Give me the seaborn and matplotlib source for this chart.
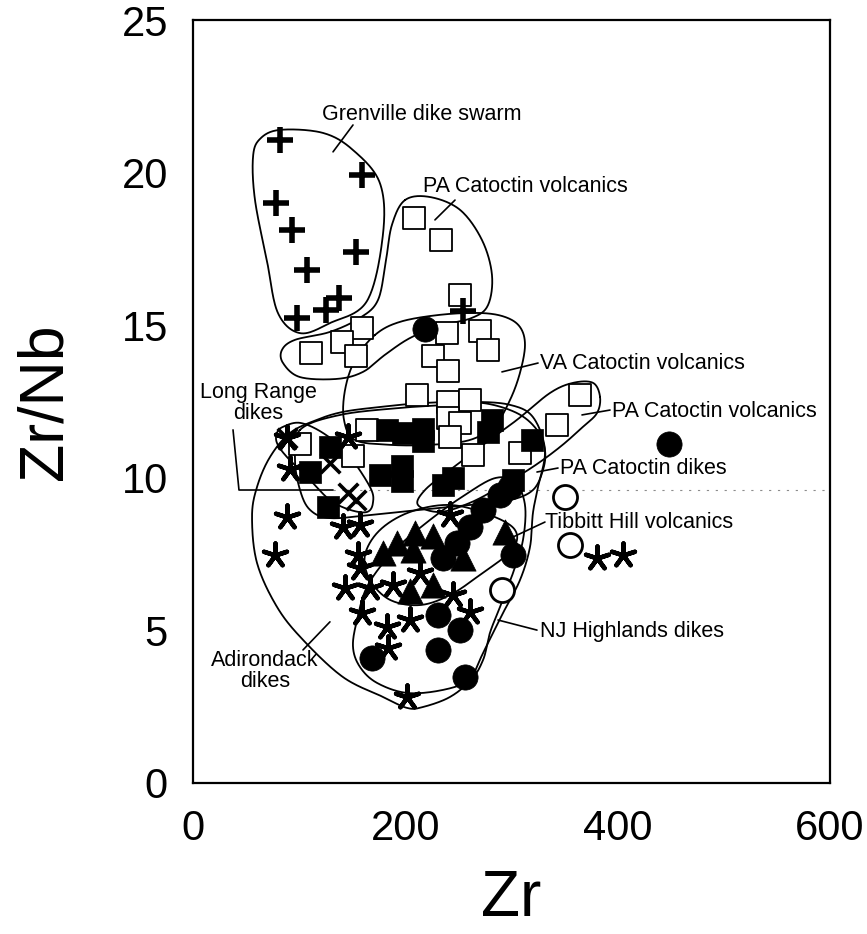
import numpy as np
import pandas as pd
import matplotlib
matplotlib.use("Agg")
import matplotlib.pyplot as plt
import seaborn as sns

# ---------------- data (Zr, Zr/Nb) ----------------
grenville_zr = [82, 159, 78, 93, 153.5, 107, 137.5, 125, 98, 254]
grenville_ratio = [21.07, 19.92, 19.0, 18.12, 17.4, 16.8, 15.89, 15.5, 15.24, 15.47]

volc_open_sq_zr = [208, 233.5, 251.5, 159, 239, 270, 111, 140, 153.5, 226, 240, 278,
                   211, 240, 261, 240, 251.5, 242, 164, 101, 151, 264, 308, 364.5, 343]
volc_open_sq_ratio = [18.5, 17.8, 16.0, 14.9, 14.75, 14.8, 14.1, 14.45, 14.0, 14.0, 13.5, 14.2,
                      12.7, 12.5, 12.55, 11.96, 11.8, 11.35, 11.57, 11.1, 10.7, 10.75, 10.8, 12.7, 11.73]

dike_sq_zr = [182.5, 198, 217, 217, 282, 278, 319, 129, 110, 176, 197, 197, 235.5, 245, 127, 301.5]
dike_sq_ratio = [11.57, 11.47, 11.6, 11.2, 11.9, 11.5, 11.24, 11.0, 10.2, 10.1, 10.4, 9.9, 9.76, 10.0, 9.04, 9.93]

longrange_zr = [88.5, 129, 146, 154]
longrange_ratio = [11.3, 10.5, 9.5, 9.27]

adirondack_zr = [88.5, 91, 146, 88.5, 77, 141, 157, 155.5, 157, 143, 167, 188, 159, 182.5,
                 204, 184, 201.5, 261, 245, 214, 242, 380.5, 405]
adirondack_ratio = [11.3, 10.3, 11.35, 8.7, 7.47, 8.4, 8.45, 7.47, 7.05, 6.4, 6.4, 6.5, 5.56, 5.1,
                    5.34, 4.42, 2.82, 5.6, 6.16, 6.88, 8.78, 7.37, 7.47]

tibbitt_zr = [179, 192, 209, 207, 226, 254, 294, 204, 226]
tibbitt_ratio = [7.54, 7.86, 8.2, 7.63, 8.1, 7.37, 8.22, 6.3, 6.5]

njh_zr = [218.5, 448, 301, 231, 251.5, 231, 168.5, 256, 235.5, 248.5, 261, 273, 289, 298.6]
njh_ratio = [14.87, 11.1, 7.47, 5.5, 5.0, 4.36, 4.1, 3.47, 7.37, 7.86, 8.39, 8.94, 9.44, 9.7]

open_circ_zr = [350, 355, 291]
open_circ_ratio = [9.37, 7.8, 6.32]

# ---------------- field outlines (Zr, Zr/Nb vertices) ----------------
outline_grenville = [(82, 21.4), (63, 21.1), (56.5, 20.5), (58.4, 19.1), (69.7, 17.1), (80, 15.4),
                     (100.8, 14.74), (129, 15.07), (164, 15.8), (179, 18.0), (176, 19.66),
                     (150.7, 20.74), (122.4, 21.3)]
outline_pa_volc_up = [(199.7, 19.10), (223.2, 19.20), (251.5, 18.78), (272.2, 17.79), (281.6, 16.65),
                      (277.9, 15.66), (262.8, 15.24), (232.6, 14.98), (204.4, 14.58), (180.8, 14.03),
                      (160.1, 13.47), (135.6, 13.24), (100.8, 13.30), (84.8, 13.76), (83.8, 14.19),
                      (96.1, 14.52), (129.0, 14.78), (157.3, 15.24), (174.3, 15.83), (181.8, 17.14),
                      (187.4, 18.29)]
outline_va_volc = [(171.4, 14.68), (195.0, 15.11), (232.6, 15.34), (270.3, 15.40), (293.9, 15.27),
                   (308.0, 14.94), (312.7, 14.35), (308.0, 13.44), (298.6, 12.55), (284.5, 11.73),
                   (260.9, 11.24), (223.2, 11.08), (185.6, 11.08), (152.6, 11.24), (142.2, 11.90),
                   (143.2, 12.88), (152.6, 13.86)]
outline_pa_volc_low = [(383.4, 12.65), (380.5, 12.12), (367.3, 11.67), (345.7, 11.01), (320.2, 10.36),
                       (289.2, 9.70), (260.9, 9.18), (232.6, 8.88), (211.9, 9.11), (218.5, 9.60),
                       (242.1, 10.26), (273.2, 11.08), (305.2, 11.90), (336.3, 12.78), (357.9, 13.11),
                       (376.8, 13.11)]
outline_pa_dikes = [(100.8, 11.57), (138.5, 12.06), (195.0, 12.29), (242.1, 12.39), (273.2, 12.45),
                    (305.2, 12.12), (324.0, 11.57), (331.5, 10.91), (329.7, 10.26), (320.2, 9.60),
                    (298.6, 9.27), (260.9, 9.11), (213.8, 8.95), (166.7, 8.78), (129.0, 8.68),
                    (110.2, 8.95), (100.8, 9.60), (96.1, 10.58)]
outline_longrange = [(79.1, 11.47), (84.8, 11.67), (100.8, 11.80), (122.4, 11.47), (145.1, 10.81),
                     (166.7, 9.70), (169.5, 9.18), (163.9, 8.88), (147.9, 8.95), (129.0, 9.27),
                     (110.2, 9.93), (88.5, 10.68), (79.1, 11.14)]
outline_adirondack = [(91.4, 11.47), (116.8, 11.90), (141.3, 12.16), (176.1, 12.32), (216.6, 12.45),
                      (263.7, 12.49), (298.6, 12.39), (320.2, 11.99), (331.5, 10.91), (325.0, 9.70),
                      (320.2, 8.85), (317.4, 7.73), (308.0, 6.65), (292.0, 5.57), (273.2, 4.26),
                      (260.9, 3.38), (242.1, 2.82), (216.6, 2.49), (201.6, 2.46), (179.0, 2.82),
                      (141.3, 3.47), (103.6, 4.69), (79.1, 5.77), (60.3, 7.21), (55.6, 8.72),
                      (60.3, 9.70), (72.5, 10.68)]
outline_njh = [(154.5, 5.34), (150.7, 4.46), (157.3, 3.80), (173.3, 3.28), (201.6, 2.95), (235.5, 3.05),
               (260.9, 3.38), (273.2, 4.03), (279.7, 4.92), (289.2, 5.77), (301.4, 6.88), (310.8, 7.96),
               (312.7, 9.11), (303.3, 9.86), (284.5, 9.99), (256.2, 9.44), (223.2, 8.62), (190.3, 7.64),
               (164.8, 6.49)]
outline_tibbitt = [(162.0, 7.47), (176.1, 8.29), (204.4, 8.88), (242.1, 9.11), (279.7, 8.78),
                   (303.3, 8.29), (300.5, 7.64), (270.3, 6.82), (242.1, 6.16), (213.8, 5.83),
                   (185.6, 6.00), (166.7, 6.65)]

# ---------------- labels: text, text anchor, leader path ----------------
label_text = ["Grenville dike swarm", "PA Catoctin volcanics", "VA Catoctin volcanics",
              "PA Catoctin volcanics", "PA Catoctin dikes", "Tibbitt Hill volcanics",
              "NJ Highlands dikes", "Adirondack\ndikes", "Long Range\ndikes"]
label_xy = [(215.7, 21.89), (216.6, 19.53), (326.8, 13.76), (394.7, 12.16), (345.7, 10.29),
            (331.5, 8.55), (326.8, 4.95), (67.8, 3.67), (61.2, 12.45)]
label_ha = ["center", "left", "left", "left", "left", "left", "left", "center", "center"]
leader_paths = [
    [(150.7, 21.56), (131.9, 20.68)],
    [(246.8, 19.10), (227.9, 18.45)],
    [(291.0, 13.47), (325.0, 13.76)],
    [(366.4, 12.06), (392.8, 12.22)],
    [(324.0, 10.19), (343.8, 10.32)],
    [(301.4, 8.06), (331.5, 8.55)],
    [(287.3, 5.34), (324.0, 5.01)],
    [(129.0, 5.28), (103.6, 4.36)],
    [(37.7, 11.57), (43.3, 9.60), (131.9, 9.60)],
]
scan_line_y = 9.60
scan_line_x = (131.9, 600)

x_ticks = [0, 100, 200, 300, 400, 500, 600]
x_ticklabels = ["0", "", "200", "", "400", "", "600"]
y_ticks = [0, 5, 10, 15, 20, 25]


def smooth_closed(pts, n=24):
    P = np.asarray(pts, float)
    m = len(P)
    t = np.linspace(0, 1, n, endpoint=False)[:, None]
    segs = []
    for i in range(m):
        p0, p1, p2, p3 = P[(i - 1) % m], P[i], P[(i + 1) % m], P[(i + 2) % m]
        segs.append(0.5 * (2 * p1 + (-p0 + p2) * t + (2 * p0 - 5 * p1 + 4 * p2 - p3) * t ** 2
                           + (-p0 + 3 * p1 - 3 * p2 + p3) * t ** 3))
    seg = np.vstack(segs)
    return np.vstack([seg, seg[:1]])


sns.set_theme(style="white")
plt.rcParams["font.family"] = ["Liberation Sans", "DejaVu Sans"]
plt.rcParams["text.color"] = "black"
plt.rcParams["axes.labelcolor"] = "black"

fig = plt.figure(figsize=(8.67, 9.34), dpi=100)
ax = fig.add_axes([193 / 867, 1 - 783 / 934, (830 - 193) / 867, (783 - 20) / 934])

# outlines
for ol in [outline_grenville, outline_pa_volc_up, outline_va_volc, outline_pa_volc_low,
           outline_pa_dikes, outline_longrange, outline_adirondack, outline_njh, outline_tibbitt]:
    c = smooth_closed(ol)
    ax.plot(c[:, 0], c[:, 1], color="black", lw=1.3, zorder=2)


def df(x, y):
    return pd.DataFrame({"Zr": x, "ZrNb": y})


sns.scatterplot(data=df(volc_open_sq_zr, volc_open_sq_ratio), x="Zr", y="ZrNb", ax=ax,
                marker="s", s=260, facecolor="white", edgecolor="black", linewidth=1.3, zorder=3)
sns.scatterplot(data=df(dike_sq_zr, dike_sq_ratio), x="Zr", y="ZrNb", ax=ax,
                marker="s", s=230, color="black", edgecolor="black", linewidth=0.5, zorder=4)
sns.scatterplot(data=df(grenville_zr, grenville_ratio), x="Zr", y="ZrNb", ax=ax,
                marker="+", s=330, color="black", linewidth=4.0, zorder=5)
sns.scatterplot(data=df(longrange_zr, longrange_ratio), x="Zr", y="ZrNb", ax=ax,
                marker="x", s=200, color="black", linewidth=2.6, zorder=5)
sns.scatterplot(data=df(adirondack_zr, adirondack_ratio), x="Zr", y="ZrNb", ax=ax,
                marker=(5, 2, 0), s=300, color="black", linewidth=3.2, zorder=5)
sns.scatterplot(data=df(tibbitt_zr, tibbitt_ratio), x="Zr", y="ZrNb", ax=ax,
                marker="^", s=330, color="black", edgecolor="black", linewidth=0.5, zorder=5)
sns.scatterplot(data=df(njh_zr, njh_ratio), x="Zr", y="ZrNb", ax=ax,
                marker="o", s=330, color="black", edgecolor="black", linewidth=0.5, zorder=6)
sns.scatterplot(data=df(open_circ_zr, open_circ_ratio), x="Zr", y="ZrNb", ax=ax,
                marker="o", s=300, facecolor="white", edgecolor="black", linewidth=2.0, zorder=6)

# labels and leaders
for txt, (tx, ty), ha in zip(label_text, label_xy, label_ha):
    ax.text(tx, ty, txt, ha=ha, va="center", fontsize=15.5, linespacing=0.95,
            color="black", zorder=7)
for path in leader_paths:
    p = np.asarray(path)
    ax.plot(p[:, 0], p[:, 1], color="black", lw=1.2, zorder=7)
ax.plot(list(scan_line_x), [scan_line_y, scan_line_y], color="0.55", lw=0.8,
        ls=(0, (2, 6)), zorder=1)

ax.set_xlim(0, 600)
ax.set_ylim(0, 25)
ax.set_xticks(x_ticks)
ax.set_xticklabels(x_ticklabels)
ax.set_yticks(y_ticks)
ax.tick_params(axis="both", direction="in", length=21, width=1.3, labelsize=30,
               color="black", labelcolor="black")
ax.tick_params(axis="x", pad=19)
ax.tick_params(axis="y", pad=18)
ax.set_xlabel("Zr", fontsize=46, labelpad=14, color="black")
ax.set_ylabel("Zr/Nb", fontsize=45, labelpad=34, color="black")
for sp in ax.spines.values():
    sp.set_linewidth(1.6)
    sp.set_color("black")
fig.savefig("out.png", dpi=100, facecolor="white")
